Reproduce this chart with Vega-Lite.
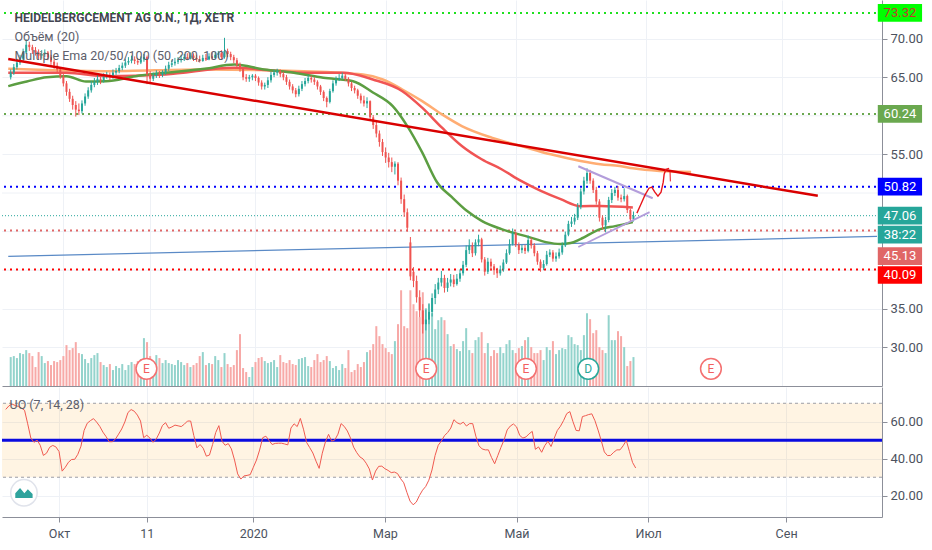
{
  "$schema": "https://vega.github.io/schema/vega-lite/v6.json",
  "background": "white",
  "padding": 0,
  "spacing": 1,
  "bounds": "flush",
  "config": {
    "view": {"stroke": null},
    "font": "Roboto",
    "axis": {"labelFont": "Roboto", "labelFontSize": 13, "labelColor": "#4c525e", "domainColor": "#8c8f99", "tickColor": "#8c8f99", "gridColor": "#eef1f6", "gridWidth": 1},
    "text": {"font": "Roboto"}
  },
  "datasets": {
    "bars": [
      {"i":-17,"o":65.0,"h":66.0,"l":64.7,"c":65.6,"v":899,"u":66.7},
      {"i":-16,"o":65.6,"h":66.7,"l":65.3,"c":66.3,"v":930,"u":68.6},
      {"i":-15,"o":66.3,"h":67.4,"l":66.0,"c":66.9,"v":868,"u":69.6},
      {"i":-14,"o":66.9,"h":67.9,"l":66.6,"c":67.4,"v":1023,"u":68.8},
      {"i":-13,"o":67.4,"h":68.7,"l":67.1,"c":68.2,"v":992,"u":68.3},
      {"i":-12,"o":68.2,"h":69.9,"l":68.0,"c":69.2,"v":1116,"u":67.4},
      {"i":-11,"o":69.2,"h":69.6,"l":68.4,"c":68.9,"v":1023,"u":66.2},
      {"i":-10,"o":68.9,"h":69.2,"l":68.0,"c":68.5,"v":930,"u":58.9},
      {"i":-9,"o":68.5,"h":68.9,"l":67.8,"c":68.2,"v":589,"u":51.2},
      {"i":-8,"o":68.2,"h":68.6,"l":67.3,"c":67.8,"v":1054,"u":48.9},
      {"i":-7,"o":67.8,"h":68.5,"l":67.4,"c":68.0,"v":930,"u":50.1},
      {"i":-6,"o":68.0,"h":68.6,"l":67.6,"c":68.2,"v":713,"u":47.3},
      {"i":-5,"o":68.2,"h":68.4,"l":67.2,"c":67.6,"v":775,"u":41.8},
      {"i":-4,"o":67.6,"h":67.9,"l":66.6,"c":67.0,"v":651,"u":43.0},
      {"i":-3,"o":67.0,"h":67.3,"l":66.1,"c":66.5,"v":775,"u":46.2},
      {"i":-2,"o":66.5,"h":66.9,"l":65.6,"c":66.0,"v":744,"u":47.2},
      {"i":-1,"o":66.0,"h":66.3,"l":64.8,"c":65.1,"v":806,"u":46.4},
      {"i":0,"o":65.1,"h":65.4,"l":63.8,"c":64.2,"v":930,"u":43.9},
      {"i":1,"o":64.2,"h":64.5,"l":62.6,"c":63.1,"v":1271,"u":33.3},
      {"i":2,"o":63.1,"h":63.5,"l":61.8,"c":62.2,"v":1116,"u":35.4},
      {"i":3,"o":62.2,"h":62.6,"l":60.8,"c":61.4,"v":1178,"u":38.1},
      {"i":4,"o":61.4,"h":61.9,"l":59.9,"c":60.8,"v":1364,"u":39.6},
      {"i":5,"o":60.8,"h":61.6,"l":60.1,"c":60.6,"v":1023,"u":39.7},
      {"i":6,"o":60.6,"h":62.0,"l":60.3,"c":61.6,"v":992,"u":42.4},
      {"i":7,"o":61.6,"h":62.9,"l":61.3,"c":62.5,"v":837,"u":46.8},
      {"i":8,"o":62.5,"h":63.7,"l":62.2,"c":63.3,"v":713,"u":55.3},
      {"i":9,"o":63.3,"h":64.5,"l":63.0,"c":64.0,"v":868,"u":59.2},
      {"i":10,"o":64.0,"h":64.9,"l":63.7,"c":64.4,"v":961,"u":60.6},
      {"i":11,"o":64.4,"h":65.3,"l":64.0,"c":64.8,"v":1023,"u":61.7},
      {"i":12,"o":64.8,"h":65.2,"l":64.1,"c":64.6,"v":744,"u":59.8},
      {"i":13,"o":64.6,"h":65.5,"l":64.3,"c":65.1,"v":651,"u":57.5},
      {"i":14,"o":65.1,"h":65.7,"l":64.8,"c":65.3,"v":589,"u":54.4},
      {"i":15,"o":65.3,"h":65.6,"l":64.6,"c":65.0,"v":682,"u":52.0},
      {"i":16,"o":65.0,"h":66.0,"l":64.8,"c":65.6,"v":496,"u":49.2},
      {"i":17,"o":65.6,"h":66.2,"l":65.3,"c":65.8,"v":620,"u":49.2},
      {"i":18,"o":65.8,"h":66.6,"l":65.5,"c":66.2,"v":558,"u":50.6},
      {"i":19,"o":66.2,"h":66.9,"l":65.9,"c":66.5,"v":682,"u":53.3},
      {"i":20,"o":66.5,"h":67.4,"l":66.2,"c":66.9,"v":496,"u":56.1},
      {"i":21,"o":66.9,"h":67.6,"l":66.6,"c":67.1,"v":651,"u":59.9},
      {"i":22,"o":67.1,"h":67.8,"l":66.8,"c":67.3,"v":744,"u":65.0},
      {"i":23,"o":67.3,"h":67.7,"l":66.7,"c":67.1,"v":682,"u":66.6},
      {"i":24,"o":67.1,"h":67.5,"l":66.6,"c":66.9,"v":775,"u":65.7},
      {"i":25,"o":66.9,"h":67.7,"l":66.7,"c":67.3,"v":837,"u":63.6},
      {"i":26,"o":67.3,"h":68.0,"l":67.0,"c":67.6,"v":1488,"u":60.4},
      {"i":27,"o":67.6,"h":67.8,"l":64.1,"c":65.4,"v":1364,"u":51.4},
      {"i":28,"o":65.4,"h":65.8,"l":64.3,"c":64.8,"v":930,"u":52.7},
      {"i":29,"o":64.8,"h":65.6,"l":64.5,"c":65.2,"v":775,"u":51.2},
      {"i":30,"o":65.2,"h":65.9,"l":64.9,"c":65.5,"v":961,"u":48.9},
      {"i":31,"o":65.5,"h":65.8,"l":64.9,"c":65.3,"v":868,"u":50.6},
      {"i":32,"o":65.3,"h":65.9,"l":65.0,"c":65.6,"v":713,"u":53.9},
      {"i":33,"o":65.6,"h":66.5,"l":65.3,"c":66.1,"v":806,"u":58.0},
      {"i":34,"o":66.1,"h":67.0,"l":65.8,"c":66.6,"v":713,"u":59.5},
      {"i":35,"o":66.6,"h":67.2,"l":66.3,"c":66.8,"v":682,"u":56.5},
      {"i":36,"o":66.8,"h":67.5,"l":66.5,"c":67.0,"v":651,"u":57.2},
      {"i":37,"o":67.0,"h":67.6,"l":66.7,"c":67.2,"v":806,"u":58.2},
      {"i":38,"o":67.2,"h":67.9,"l":66.9,"c":67.4,"v":744,"u":57.8},
      {"i":39,"o":67.4,"h":68.0,"l":67.1,"c":67.6,"v":651,"u":57.4},
      {"i":40,"o":67.6,"h":68.1,"l":67.2,"c":67.4,"v":713,"u":58.7},
      {"i":41,"o":67.4,"h":68.2,"l":67.3,"c":67.8,"v":589,"u":60.4},
      {"i":42,"o":67.8,"h":68.1,"l":67.1,"c":67.5,"v":651,"u":60.4},
      {"i":43,"o":67.5,"h":67.9,"l":67.0,"c":67.3,"v":713,"u":52.6},
      {"i":44,"o":67.3,"h":67.8,"l":66.9,"c":67.1,"v":930,"u":45.9},
      {"i":45,"o":67.1,"h":67.9,"l":67.0,"c":67.5,"v":1054,"u":47.7},
      {"i":46,"o":67.5,"h":68.0,"l":67.1,"c":67.3,"v":651,"u":45.7},
      {"i":47,"o":67.3,"h":68.1,"l":67.2,"c":67.7,"v":713,"u":41.4},
      {"i":48,"o":67.7,"h":68.2,"l":67.3,"c":67.5,"v":682,"u":42.0},
      {"i":49,"o":67.5,"h":68.3,"l":67.4,"c":67.9,"v":930,"u":47.7},
      {"i":50,"o":67.9,"h":68.4,"l":67.5,"c":68.1,"v":806,"u":54.2},
      {"i":51,"o":68.1,"h":68.5,"l":67.3,"c":67.6,"v":589,"u":57.9},
      {"i":52,"o":67.6,"h":70.1,"l":67.4,"c":68.4,"v":1023,"u":49.5},
      {"i":53,"o":68.4,"h":68.7,"l":67.6,"c":68.0,"v":682,"u":47.3},
      {"i":54,"o":68.0,"h":68.3,"l":67.2,"c":67.6,"v":589,"u":48.2},
      {"i":55,"o":67.6,"h":67.9,"l":66.8,"c":67.2,"v":651,"u":45.3},
      {"i":56,"o":67.2,"h":67.5,"l":66.2,"c":66.6,"v":1116,"u":39.3},
      {"i":57,"o":66.6,"h":66.9,"l":65.7,"c":66.1,"v":1612,"u":31.8},
      {"i":58,"o":66.1,"h":66.3,"l":64.6,"c":65.0,"v":558,"u":29.0},
      {"i":59,"o":65.0,"h":65.4,"l":64.4,"c":64.8,"v":434,"u":30.7},
      {"i":60,"o":64.8,"h":65.3,"l":64.4,"c":65.0,"v":279,"u":31.0},
      {"i":61,"o":65.0,"h":65.4,"l":64.6,"c":65.2,"v":589,"u":31.4},
      {"i":62,"o":65.2,"h":65.4,"l":64.5,"c":64.9,"v":744,"u":35.4},
      {"i":63,"o":64.9,"h":65.1,"l":63.9,"c":64.3,"v":868,"u":39.3},
      {"i":64,"o":64.3,"h":64.6,"l":63.4,"c":63.8,"v":899,"u":44.7},
      {"i":65,"o":63.8,"h":64.3,"l":63.4,"c":64.0,"v":775,"u":51.4},
      {"i":66,"o":64.0,"h":65.0,"l":63.6,"c":64.6,"v":713,"u":52.2},
      {"i":67,"o":64.6,"h":65.7,"l":64.3,"c":65.3,"v":744,"u":49.9},
      {"i":68,"o":65.3,"h":66.0,"l":65.0,"c":65.6,"v":806,"u":47.7},
      {"i":69,"o":65.6,"h":66.1,"l":65.2,"c":65.8,"v":589,"u":48.3},
      {"i":70,"o":65.8,"h":66.0,"l":65.0,"c":65.4,"v":961,"u":48.4},
      {"i":71,"o":65.4,"h":65.7,"l":64.6,"c":65.0,"v":744,"u":48.4},
      {"i":72,"o":65.0,"h":65.3,"l":64.0,"c":64.4,"v":713,"u":48.0},
      {"i":73,"o":64.4,"h":64.7,"l":63.4,"c":63.8,"v":806,"u":47.5},
      {"i":74,"o":63.8,"h":64.1,"l":62.9,"c":63.3,"v":682,"u":56.6},
      {"i":75,"o":63.3,"h":63.6,"l":62.4,"c":62.8,"v":651,"u":58.9},
      {"i":76,"o":62.8,"h":63.9,"l":62.5,"c":63.5,"v":837,"u":57.4},
      {"i":77,"o":63.5,"h":64.5,"l":63.2,"c":64.1,"v":868,"u":61.8},
      {"i":78,"o":64.1,"h":64.9,"l":63.8,"c":64.5,"v":899,"u":56.0},
      {"i":79,"o":64.5,"h":65.3,"l":64.2,"c":64.9,"v":620,"u":48.8},
      {"i":80,"o":64.9,"h":65.2,"l":64.3,"c":64.7,"v":589,"u":46.0},
      {"i":81,"o":64.7,"h":65.0,"l":64.0,"c":64.4,"v":806,"u":43.1},
      {"i":82,"o":64.4,"h":64.6,"l":63.4,"c":63.8,"v":992,"u":38.7},
      {"i":83,"o":63.8,"h":64.0,"l":62.7,"c":63.1,"v":744,"u":34.8},
      {"i":84,"o":63.1,"h":63.3,"l":61.9,"c":62.3,"v":806,"u":43.0},
      {"i":85,"o":62.3,"h":62.5,"l":61.1,"c":61.8,"v":930,"u":49.1},
      {"i":86,"o":61.8,"h":63.5,"l":61.6,"c":63.2,"v":775,"u":53.2},
      {"i":87,"o":63.2,"h":64.6,"l":63.0,"c":64.2,"v":558,"u":49.5},
      {"i":88,"o":64.2,"h":65.1,"l":63.9,"c":64.7,"v":620,"u":50.2},
      {"i":89,"o":64.7,"h":65.4,"l":64.5,"c":64.9,"v":496,"u":53.3},
      {"i":90,"o":64.9,"h":65.6,"l":64.7,"c":65.2,"v":682,"u":59.0},
      {"i":91,"o":65.2,"h":65.4,"l":64.5,"c":64.8,"v":558,"u":57.5},
      {"i":92,"o":64.8,"h":65.0,"l":63.8,"c":64.2,"v":1116,"u":55.0},
      {"i":93,"o":64.2,"h":64.4,"l":63.2,"c":63.6,"v":434,"u":51.2},
      {"i":94,"o":63.6,"h":63.9,"l":62.9,"c":63.3,"v":496,"u":46.3},
      {"i":95,"o":63.3,"h":63.5,"l":62.2,"c":62.6,"v":682,"u":43.3},
      {"i":96,"o":62.6,"h":62.9,"l":61.6,"c":62.0,"v":589,"u":41.0},
      {"i":97,"o":62.0,"h":62.6,"l":61.2,"c":61.6,"v":744,"u":39.9},
      {"i":98,"o":61.6,"h":62.4,"l":61.0,"c":61.9,"v":1054,"u":37.6},
      {"i":99,"o":61.9,"h":62.0,"l":59.4,"c":59.8,"v":1116,"u":34.5},
      {"i":100,"o":59.8,"h":60.1,"l":58.3,"c":58.8,"v":1302,"u":28.5},
      {"i":101,"o":58.8,"h":59.2,"l":57.2,"c":57.7,"v":1860,"u":33.3},
      {"i":102,"o":57.7,"h":58.1,"l":56.0,"c":56.6,"v":1550,"u":35.9},
      {"i":103,"o":56.6,"h":57.0,"l":54.8,"c":55.3,"v":1302,"u":36.0},
      {"i":104,"o":55.3,"h":55.9,"l":53.9,"c":54.6,"v":1178,"u":34.6},
      {"i":105,"o":54.6,"h":55.2,"l":53.3,"c":54.0,"v":1054,"u":33.7},
      {"i":106,"o":54.0,"h":54.6,"l":52.7,"c":53.4,"v":992,"u":32.5},
      {"i":107,"o":53.4,"h":54.1,"l":52.4,"c":53.8,"v":1395,"u":32.8},
      {"i":108,"o":53.8,"h":54.0,"l":51.0,"c":51.6,"v":1922,"u":32.0},
      {"i":109,"o":51.6,"h":52.0,"l":48.6,"c":49.2,"v":2976,"u":29.2},
      {"i":110,"o":49.2,"h":49.8,"l":46.9,"c":47.5,"v":1860,"u":27.0},
      {"i":111,"o":47.5,"h":48.0,"l":45.0,"c":45.5,"v":1798,"u":21.8},
      {"i":112,"o":43.6,"h":44.3,"l":38.7,"c":39.2,"v":2976,"u":17.1},
      {"i":113,"o":39.8,"h":40.4,"l":37.8,"c":38.6,"v":2542,"u":15.1},
      {"i":114,"o":38.6,"h":39.3,"l":35.8,"c":36.5,"v":2325,"u":16.6},
      {"i":115,"o":36.5,"h":37.4,"l":33.9,"c":34.8,"v":2139,"u":20.1},
      {"i":116,"o":34.8,"h":35.6,"l":31.8,"c":33.0,"v":2914,"u":23.0},
      {"i":117,"o":33.0,"h":34.9,"l":32.2,"c":33.6,"v":2418,"u":25.0},
      {"i":118,"o":33.6,"h":35.6,"l":33.0,"c":34.6,"v":2573,"u":28.4},
      {"i":119,"o":34.6,"h":37.0,"l":34.0,"c":36.4,"v":2263,"u":33.9},
      {"i":120,"o":36.4,"h":38.2,"l":35.6,"c":37.5,"v":1767,"u":41.8},
      {"i":121,"o":37.5,"h":39.0,"l":36.9,"c":38.4,"v":2046,"u":47.3},
      {"i":122,"o":38.4,"h":39.9,"l":37.9,"c":39.0,"v":2139,"u":49.6},
      {"i":123,"o":39.0,"h":39.4,"l":37.1,"c":37.7,"v":2046,"u":52.5},
      {"i":124,"o":37.7,"h":39.0,"l":37.2,"c":38.4,"v":1612,"u":54.2},
      {"i":125,"o":38.4,"h":39.5,"l":37.9,"c":38.8,"v":1240,"u":56.6},
      {"i":126,"o":38.8,"h":39.4,"l":37.8,"c":38.2,"v":1302,"u":61.1},
      {"i":127,"o":38.2,"h":39.5,"l":38.0,"c":38.9,"v":1147,"u":59.5},
      {"i":128,"o":38.9,"h":40.1,"l":38.5,"c":39.6,"v":1085,"u":58.7},
      {"i":129,"o":39.6,"h":41.2,"l":39.3,"c":40.7,"v":1395,"u":59.8},
      {"i":130,"o":40.7,"h":43.2,"l":40.4,"c":42.6,"v":1798,"u":57.7},
      {"i":131,"o":42.6,"h":44.0,"l":42.1,"c":43.2,"v":1116,"u":59.0},
      {"i":132,"o":43.2,"h":43.6,"l":41.7,"c":42.2,"v":1023,"u":59.0},
      {"i":133,"o":42.2,"h":44.0,"l":41.9,"c":43.6,"v":1426,"u":52.2},
      {"i":134,"o":43.6,"h":44.6,"l":43.1,"c":44.0,"v":1519,"u":47.0},
      {"i":135,"o":44.0,"h":44.2,"l":41.0,"c":41.4,"v":1674,"u":45.3},
      {"i":136,"o":41.4,"h":41.7,"l":39.3,"c":39.8,"v":1023,"u":44.8},
      {"i":137,"o":39.8,"h":41.6,"l":39.5,"c":41.1,"v":1333,"u":44.8},
      {"i":138,"o":41.1,"h":41.5,"l":40.0,"c":40.5,"v":930,"u":40.7},
      {"i":139,"o":40.5,"h":40.8,"l":39.4,"c":40.0,"v":1116,"u":37.3},
      {"i":140,"o":40.0,"h":40.3,"l":39.0,"c":39.6,"v":1023,"u":41.7},
      {"i":141,"o":39.6,"h":40.6,"l":39.3,"c":40.1,"v":1209,"u":46.1},
      {"i":142,"o":40.1,"h":41.4,"l":39.8,"c":41.0,"v":1023,"u":50.2},
      {"i":143,"o":41.0,"h":42.7,"l":40.8,"c":42.2,"v":1302,"u":55.6},
      {"i":144,"o":42.2,"h":44.0,"l":42.0,"c":43.4,"v":1426,"u":57.7},
      {"i":145,"o":43.4,"h":45.4,"l":43.2,"c":44.8,"v":1116,"u":58.8},
      {"i":146,"o":44.8,"h":45.0,"l":43.0,"c":43.3,"v":1023,"u":57.2},
      {"i":147,"o":43.3,"h":43.6,"l":42.1,"c":42.6,"v":1178,"u":52.6},
      {"i":148,"o":42.6,"h":43.3,"l":42.2,"c":42.9,"v":1240,"u":51.2},
      {"i":149,"o":42.9,"h":43.3,"l":42.1,"c":42.5,"v":1426,"u":51.8},
      {"i":150,"o":42.5,"h":44.5,"l":42.3,"c":43.9,"v":1519,"u":53.5},
      {"i":151,"o":43.9,"h":44.2,"l":42.8,"c":43.2,"v":1209,"u":54.8},
      {"i":152,"o":43.2,"h":43.5,"l":41.8,"c":42.2,"v":1023,"u":45.1},
      {"i":153,"o":42.2,"h":42.5,"l":40.7,"c":41.1,"v":1023,"u":46.4},
      {"i":154,"o":41.1,"h":41.4,"l":39.8,"c":40.3,"v":1116,"u":43.5},
      {"i":155,"o":40.3,"h":41.3,"l":40.0,"c":40.8,"v":806,"u":47.1},
      {"i":156,"o":40.8,"h":42.5,"l":40.6,"c":42.0,"v":1209,"u":49.5},
      {"i":157,"o":42.0,"h":42.7,"l":41.7,"c":42.3,"v":1116,"u":46.6},
      {"i":158,"o":42.3,"h":42.6,"l":41.1,"c":41.5,"v":1395,"u":51.1},
      {"i":159,"o":41.5,"h":42.3,"l":41.1,"c":41.8,"v":992,"u":55.3},
      {"i":160,"o":41.8,"h":42.8,"l":41.5,"c":42.3,"v":1116,"u":57.6},
      {"i":161,"o":42.3,"h":43.6,"l":42.0,"c":43.2,"v":1178,"u":60.7},
      {"i":162,"o":43.2,"h":45.0,"l":43.0,"c":44.6,"v":1147,"u":64.4},
      {"i":163,"o":44.6,"h":46.4,"l":44.4,"c":46.0,"v":1581,"u":65.5},
      {"i":164,"o":46.0,"h":46.9,"l":45.6,"c":46.3,"v":1519,"u":60.0},
      {"i":165,"o":46.3,"h":47.3,"l":45.9,"c":46.8,"v":1302,"u":55.3},
      {"i":166,"o":46.8,"h":48.7,"l":46.5,"c":48.2,"v":1271,"u":55.1},
      {"i":167,"o":48.2,"h":50.6,"l":47.9,"c":50.2,"v":1116,"u":62.8},
      {"i":168,"o":50.2,"h":52.1,"l":49.8,"c":51.6,"v":1581,"u":63.3},
      {"i":169,"o":51.6,"h":53.2,"l":51.2,"c":52.6,"v":2263,"u":63.9},
      {"i":170,"o":52.6,"h":53.0,"l":51.2,"c":51.6,"v":2077,"u":64.3},
      {"i":171,"o":51.6,"h":51.9,"l":50.0,"c":50.4,"v":1643,"u":60.6},
      {"i":172,"o":50.4,"h":50.8,"l":48.5,"c":48.9,"v":1736,"u":55.5},
      {"i":173,"o":48.9,"h":49.2,"l":46.3,"c":46.8,"v":1209,"u":49.9},
      {"i":174,"o":46.8,"h":47.1,"l":45.3,"c":45.8,"v":1116,"u":43.7},
      {"i":175,"o":45.8,"h":46.9,"l":44.9,"c":46.5,"v":1023,"u":41.7},
      {"i":176,"o":46.5,"h":49.5,"l":46.2,"c":49.1,"v":2201,"u":41.8},
      {"i":177,"o":49.1,"h":50.5,"l":48.7,"c":50.0,"v":1426,"u":43.5},
      {"i":178,"o":50.0,"h":50.8,"l":49.6,"c":50.4,"v":1426,"u":44.8},
      {"i":179,"o":50.4,"h":50.9,"l":49.0,"c":49.4,"v":1705,"u":44.8},
      {"i":180,"o":49.4,"h":49.8,"l":48.8,"c":49.2,"v":1550,"u":47.0},
      {"i":181,"o":49.2,"h":50.6,"l":48.9,"c":49.6,"v":1209,"u":49.9},
      {"i":182,"o":49.6,"h":49.8,"l":47.4,"c":47.8,"v":620,"u":44.0},
      {"i":183,"o":47.8,"h":48.0,"l":46.2,"c":46.6,"v":775,"u":38.0},
      {"i":184,"o":46.6,"h":47.6,"l":46.3,"c":47.06,"v":899,"u":35.0}
    ],
    "ema": [
      {"n":"o","i":-17.8,"p":66.09},{"n":"o","i":13.7,"p":65.78},{"n":"o","i":45.6,"p":66.0},{"n":"o","i":77.5,"p":65.78},
      {"n":"o","i":96.7,"p":65.35},{"n":"o","i":103.1,"p":64.7},{"n":"o","i":109.4,"p":63.41},{"n":"o","i":115.8,"p":61.9},
      {"n":"o","i":122.2,"p":60.18},{"n":"o","i":128.6,"p":58.67},{"n":"o","i":138.2,"p":57.17},{"n":"o","i":147.7,"p":56.09},
      {"n":"o","i":157.3,"p":55.01},{"n":"o","i":166.9,"p":54.15},{"n":"o","i":173.3,"p":53.72},{"n":"o","i":179.6,"p":53.5},
      {"n":"o","i":183.8,"p":53.2},{"n":"o","i":192.4,"p":52.86},{"n":"o","i":202.6,"p":52.73},
      {"n":"r","i":-17.8,"p":65.57},{"n":"r","i":1.0,"p":65.57},{"n":"r","i":13.7,"p":65.13},{"n":"r","i":32.9,"p":65.35},
      {"n":"r","i":55.2,"p":66.21},{"n":"r","i":77.5,"p":65.57},{"n":"r","i":90.3,"p":65.57},{"n":"r","i":99.9,"p":64.7},
      {"n":"r","i":109.4,"p":63.19},{"n":"r","i":115.8,"p":61.05},{"n":"r","i":122.2,"p":58.46},{"n":"r","i":128.6,"p":56.09},
      {"n":"r","i":135.0,"p":54.37},{"n":"r","i":141.4,"p":53.08},{"n":"r","i":147.7,"p":51.56},{"n":"r","i":154.1,"p":50.27},
      {"n":"r","i":160.5,"p":49.2},{"n":"r","i":166.9,"p":48.29},{"n":"r","i":173.3,"p":48.33},{"n":"r","i":183.8,"p":48.13},
      {"n":"g","i":-17.8,"p":63.84},{"n":"g","i":-11.8,"p":64.44},{"n":"g","i":-5.4,"p":65.0},{"n":"g","i":1.0,"p":65.13},
      {"n":"g","i":7.3,"p":64.44},{"n":"g","i":13.7,"p":64.48},{"n":"g","i":23.3,"p":65.13},{"n":"g","i":32.9,"p":65.57},
      {"n":"g","i":45.6,"p":66.09},{"n":"g","i":55.2,"p":66.64},{"n":"g","i":64.8,"p":66.0},{"n":"g","i":74.4,"p":65.57},
      {"n":"g","i":83.9,"p":64.92},{"n":"g","i":93.5,"p":64.48},{"n":"g","i":99.9,"p":63.02},{"n":"g","i":106.3,"p":61.25},
      {"n":"g","i":111.0,"p":58.67},{"n":"g","i":115.8,"p":55.27},{"n":"g","i":120.6,"p":51.4},{"n":"g","i":125.4,"p":49.46},
      {"n":"g","i":130.2,"p":47.69},{"n":"g","i":135.0,"p":46.4},{"n":"g","i":141.4,"p":45.32},{"n":"g","i":150.3,"p":44.29},
      {"n":"g","i":155.7,"p":43.64},{"n":"g","i":160.5,"p":43.39},{"n":"g","i":163.7,"p":43.51},{"n":"g","i":166.9,"p":44.03},
      {"n":"g","i":173.3,"p":45.32},{"n":"g","i":178.1,"p":45.71},{"n":"g","i":183.8,"p":46.23}
    ],
    "grid": [{"p":40},{"p":45},{"p":50},{"p":60}],
    "hl": [
      {"n":"a","p":73.32},{"n":"b","p":60.24},{"n":"c","p":50.82},{"n":"f","p":45.13},{"n":"g","p":40.09}
    ],
    "last": [{"p":47.06}],
    "blue": [{"k":0,"i":-17.8,"p":41.8},{"k":1,"i":262.6,"p":44.37}],
    "lines": [
      {"n":"trend","k":0,"i":-17.8,"p":67.35},{"n":"trend","k":1,"i":243.5,"p":49.63},
      {"n":"tri1","k":0,"i":166.2,"p":53.46},{"n":"tri1","k":1,"i":190.2,"p":49.33},
      {"n":"tri2","k":0,"i":166.2,"p":43.0},{"n":"tri2","k":1,"i":189.2,"p":47.52},
      {"n":"path","k":0,"i":185.1,"p":47.39},{"n":"path","k":1,"i":186.4,"p":48.55},{"n":"path","k":2,"i":187.7,"p":49.72},
      {"n":"path","k":3,"i":189.0,"p":50.62},{"n":"path","k":4,"i":189.9,"p":50.75},{"n":"path","k":5,"i":190.9,"p":50.1},
      {"n":"path","k":6,"i":191.9,"p":49.59},{"n":"path","k":7,"i":192.9,"p":50.1},{"n":"path","k":8,"i":193.6,"p":51.4},
      {"n":"path","k":9,"i":193.9,"p":52.43},{"n":"path","k":10,"i":194.5,"p":53.07},{"n":"path","k":11,"i":195.5,"p":53.2},
      {"n":"tick","k":0,"i":195.8,"p":52.8},{"n":"tick","k":1,"i":195.9,"p":51.5}
    ],
    "ev": [
      {"k":"E","i":26.8,"p":27.23},{"k":"E","i":117.1,"p":27.23},{"k":"E","i":149.3,"p":27.23},
      {"k":"D","i":169.4,"p":27.23},{"k":"E","i":209.0,"p":27.23}
    ],
    "ttl": [{"t":"HEIDELBERGCEMENT AG O.N., 1Д, XETR","i":-15.8,"p":72.71}],
    "leg": [
      {"t":"Объём (20)","i":-15.8,"p":70.2},
      {"t":"Multiple Ema 20/50/100 (50, 200, 100)","i":-15.8,"p":67.7}
    ],
    "tags": [
      {"n":"a","t":"73.32","at":73.32},{"n":"b","t":"60.24","at":60.24},{"n":"c","t":"50.82","at":50.82},
      {"n":"d","t":"47.06","at":47.06},{"n":"e","t":"38:22","at":44.6},{"n":"f","t":"45.13","at":41.83},
      {"n":"g","t":"40.09","at":39.38}
    ],
    "band": [{"lo":30,"hi":70}],
    "lv": [{"lvl":30},{"lvl":70}],
    "mid": [{"lvl":50}],
    "uot": [{"t":"UO (7, 14, 28)","i":-15.8,"u":69.3}],
    "logo": [{"i":-11.2,"u":21.6}]
  },
  "vconcat": [
    {
      "width": 880,
      "height": 386,
      "resolve": {"scale": {"y": "independent"}},
      "layer": [
        {
          "data": {"name": "bars"},
          "mark": {"type": "bar", "size": 2},
          "encoding": {
            "x": {"field": "i", "type": "quantitative", "title": null,
                  "scale": {"domain": [-18.2, 262.6], "nice": false, "zero": false},
                  "axis": {"values": [0, 28, 62, 104, 146, 188, 232], "labels": false, "ticks": false, "domain": true, "grid": true}},
            "y": {"field": "v", "type": "quantitative", "title": null, "scale": {"domain": [0, 12000]}, "axis": null},
            "color": {"condition": {"test": "datum.c >= datum.o", "value": "#93d3cc"}, "value": "#f7a9a7"}
          }
        },
        {
          "resolve": {"scale": {"color": "independent", "strokeWidth": "independent", "stroke": "independent"}},
          "layer": [
            {
              "data": {"name": "grid"},
              "mark": {"type": "rule", "strokeWidth": 1, "color": "#eef1f6"},
              "encoding": {
                "y": {"field": "p", "type": "quantitative", "title": null,
                      "scale": {"domain": [25, 75], "nice": false, "zero": false},
                      "axis": {"orient": "right", "values": [30, 35, 55, 65, 70], "format": ".2f", "tickSize": 5, "labelPadding": 3, "grid": true, "domain": true}}
              }
            },
            {
              "data": {"name": "hl"},
              "mark": {"type": "rule", "strokeWidth": 2, "strokeDash": [2, 4]},
              "encoding": {
                "y": {"field": "p", "type": "quantitative", "title": null, "scale": {"domain": [25, 75], "nice": false, "zero": false}},
                "color": {"field": "n", "type": "nominal", "legend": null,
                          "scale": {"domain": ["a", "b", "c", "f", "g"], "range": ["#1fe01f", "#6aa84f", "#0000ff", "#e06666", "#ff0000"]}}
              }
            },
            {
              "data": {"name": "last"},
              "mark": {"type": "rule", "strokeWidth": 1, "strokeDash": [1, 2], "color": "#26a69a"},
              "encoding": {"y": {"field": "p", "type": "quantitative", "title": null, "scale": {"domain": [25, 75], "nice": false, "zero": false}}}
            },
            {
              "data": {"name": "blue"},
              "mark": {"type": "line", "strokeWidth": 1.3, "color": "#5a8ac6"},
              "encoding": {
                "x": {"field": "i", "type": "quantitative", "title": null, "scale": {"domain": [-18.2, 262.6], "nice": false, "zero": false}},
                "y": {"field": "p", "type": "quantitative", "title": null, "scale": {"domain": [25, 75], "nice": false, "zero": false}},
                "order": {"field": "k"}
              }
            },
            {
              "data": {"name": "ema"},
              "mark": {"type": "line", "strokeWidth": 2.5, "interpolate": "monotone"},
              "encoding": {
                "x": {"field": "i", "type": "quantitative", "title": null, "scale": {"domain": [-18.2, 262.6], "nice": false, "zero": false}},
                "y": {"field": "p", "type": "quantitative", "title": null, "scale": {"domain": [25, 75], "nice": false, "zero": false}},
                "color": {"field": "n", "type": "nominal", "legend": null,
                          "scale": {"domain": ["o", "r", "g"], "range": ["#ffad73", "#f05454", "#5c9e42"]}}
              }
            },
            {
              "data": {"name": "bars"},
              "mark": {"type": "rule", "strokeWidth": 1},
              "encoding": {
                "x": {"field": "i", "type": "quantitative", "title": null, "scale": {"domain": [-18.2, 262.6], "nice": false, "zero": false}},
                "y": {"field": "l", "type": "quantitative", "title": null, "scale": {"domain": [25, 75], "nice": false, "zero": false}},
                "y2": {"field": "h"},
                "color": {"condition": {"test": "datum.c >= datum.o", "value": "#26a69a"}, "value": "#ef5350"}
              }
            },
            {
              "data": {"name": "bars"},
              "mark": {"type": "bar", "size": 2},
              "encoding": {
                "x": {"field": "i", "type": "quantitative", "title": null, "scale": {"domain": [-18.2, 262.6], "nice": false, "zero": false}},
                "y": {"field": "o", "type": "quantitative", "title": null, "scale": {"domain": [25, 75], "nice": false, "zero": false}},
                "y2": {"field": "c"},
                "color": {"condition": {"test": "datum.c >= datum.o", "value": "#26a69a"}, "value": "#ef5350"}
              }
            },
            {
              "data": {"name": "lines"},
              "mark": {"type": "line"},
              "encoding": {
                "x": {"field": "i", "type": "quantitative", "title": null, "scale": {"domain": [-18.2, 262.6], "nice": false, "zero": false}},
                "y": {"field": "p", "type": "quantitative", "title": null, "scale": {"domain": [25, 75], "nice": false, "zero": false}},
                "order": {"field": "k"},
                "color": {"field": "n", "type": "nominal", "legend": null,
                          "scale": {"domain": ["trend", "tri1", "tri2", "path", "tick"], "range": ["#d90000", "#b39ddb", "#b39ddb", "#e8151b", "#e8151b"]}},
                "strokeWidth": {"field": "n", "type": "nominal", "legend": null,
                          "scale": {"domain": ["trend", "tri1", "tri2", "path", "tick"], "range": [2.5, 1, 1, 2.5, 2]}}
              }
            },
            {
              "data": {"name": "ev"},
              "mark": {"type": "point", "shape": "circle", "size": 430, "fill": "white", "fillOpacity": 1, "strokeWidth": 1.5, "opacity": 1},
              "encoding": {
                "x": {"field": "i", "type": "quantitative", "title": null, "scale": {"domain": [-18.2, 262.6], "nice": false, "zero": false}},
                "y": {"field": "p", "type": "quantitative", "title": null, "scale": {"domain": [25, 75], "nice": false, "zero": false}},
                "stroke": {"field": "k", "type": "nominal", "legend": null, "scale": {"domain": ["E", "D"], "range": ["#f47171", "#2aa89a"]}}
              }
            },
            {
              "data": {"name": "ev"},
              "mark": {"type": "text", "fontSize": 12, "baseline": "middle", "align": "center"},
              "encoding": {
                "x": {"field": "i", "type": "quantitative", "title": null, "scale": {"domain": [-18.2, 262.6], "nice": false, "zero": false}},
                "y": {"field": "p", "type": "quantitative", "title": null, "scale": {"domain": [25, 75], "nice": false, "zero": false}},
                "text": {"field": "k"},
                "color": {"field": "k", "type": "nominal", "legend": null, "scale": {"domain": ["E", "D"], "range": ["#f26060", "#2aa89a"]}}
              }
            },
            {
              "data": {"name": "ttl"},
              "mark": {"type": "text", "align": "left", "baseline": "middle", "fontSize": 12, "fontWeight": "bold", "color": "#434651"},
              "encoding": {
                "x": {"field": "i", "type": "quantitative", "title": null, "scale": {"domain": [-18.2, 262.6], "nice": false, "zero": false}},
                "y": {"field": "p", "type": "quantitative", "title": null, "scale": {"domain": [25, 75], "nice": false, "zero": false}},
                "text": {"field": "t"}
              }
            },
            {
              "data": {"name": "leg"},
              "mark": {"type": "text", "align": "left", "baseline": "middle", "fontSize": 12.5, "color": "#5d606b"},
              "encoding": {
                "x": {"field": "i", "type": "quantitative", "title": null, "scale": {"domain": [-18.2, 262.6], "nice": false, "zero": false}},
                "y": {"field": "p", "type": "quantitative", "title": null, "scale": {"domain": [25, 75], "nice": false, "zero": false}},
                "text": {"field": "t"}
              }
            },
            {
              "data": {"name": "tags"},
              "mark": {"type": "point", "shape": "M-1,-0.4L1,-0.4L1,0.4L-1,0.4Z", "size": 1960, "filled": true, "opacity": 1},
              "encoding": {
                "x": {"datum": 270, "type": "quantitative", "scale": {"domain": [-18.2, 262.6], "nice": false, "zero": false}},
                "y": {"field": "at", "type": "quantitative", "title": null, "scale": {"domain": [25, 75], "nice": false, "zero": false}},
                "color": {"field": "n", "type": "nominal", "legend": null,
                          "scale": {"domain": ["a", "b", "c", "d", "e", "f", "g"], "range": ["#00ff00", "#6aa84f", "#0000ff", "#26a69a", "#26a69a", "#e06666", "#ff0000"]}}
              }
            },
            {
              "data": {"name": "tags"},
              "mark": {"type": "text", "align": "center", "baseline": "middle", "fontSize": 13},
              "encoding": {
                "x": {"datum": 270, "type": "quantitative", "scale": {"domain": [-18.2, 262.6], "nice": false, "zero": false}},
                "y": {"field": "at", "type": "quantitative", "title": null, "scale": {"domain": [25, 75], "nice": false, "zero": false}},
                "text": {"field": "t"},
                "color": {"field": "n", "type": "nominal", "legend": null,
                          "scale": {"domain": ["a", "b", "c", "d", "e", "f", "g"], "range": ["#c0392b", "#ffffff", "#ffffff", "#ffffff", "#ffffff", "#ffffff", "#ffffff"]}}
              }
            }
          ]
        }
      ]
    },
    {
      "width": 880,
      "height": 130,
      "layer": [
        {
          "data": {"name": "band"},
          "mark": {"type": "rect", "color": "#ff9800", "opacity": 0.11},
          "encoding": {
            "y": {"field": "lo", "type": "quantitative", "title": null,
                  "scale": {"domain": [8.5, 78.8], "nice": false, "zero": false},
                  "axis": {"orient": "right", "values": [20, 40, 60], "format": ".2f", "tickSize": 5, "labelPadding": 3, "grid": true, "domain": true}},
            "y2": {"field": "hi"}
          }
        },
        {
          "data": {"name": "lv"},
          "mark": {"type": "rule", "color": "#9c9ea6", "strokeDash": [3, 3], "strokeWidth": 1},
          "encoding": {"y": {"field": "lvl", "type": "quantitative", "title": null, "scale": {"domain": [8.5, 78.8], "nice": false, "zero": false}}}
        },
        {
          "data": {"name": "mid"},
          "mark": {"type": "rule", "color": "#0a0ae0", "strokeWidth": 3},
          "encoding": {"y": {"field": "lvl", "type": "quantitative", "title": null, "scale": {"domain": [8.5, 78.8], "nice": false, "zero": false}}}
        },
        {
          "data": {"name": "bars"},
          "mark": {"type": "line", "color": "#f05a50", "strokeWidth": 1},
          "encoding": {
            "x": {"field": "i", "type": "quantitative", "title": null,
                  "scale": {"domain": [-18.2, 262.6], "nice": false, "zero": false},
                  "axis": {"orient": "bottom", "values": [0, 28, 62, 104, 146, 188, 232], "tickSize": 5, "labelPadding": 5, "grid": true, "domain": true, "labelFontSize": 12.5,
                           "labelExpr": "datum.value == 0 ? 'Окт' : datum.value == 28 ? '11' : datum.value == 62 ? '2020' : datum.value == 104 ? 'Мар' : datum.value == 146 ? 'Май' : datum.value == 188 ? 'Июл' : 'Сен'"}},
            "y": {"field": "u", "type": "quantitative", "title": null, "scale": {"domain": [8.5, 78.8], "nice": false, "zero": false}}
          }
        },
        {
          "data": {"name": "uot"},
          "mark": {"type": "text", "align": "left", "baseline": "middle", "fontSize": 12.5, "color": "#5d606b"},
          "encoding": {
            "x": {"field": "i", "type": "quantitative", "title": null, "scale": {"domain": [-18.2, 262.6], "nice": false, "zero": false}},
            "y": {"field": "u", "type": "quantitative", "title": null, "scale": {"domain": [8.5, 78.8], "nice": false, "zero": false}},
            "text": {"field": "t"}
          }
        },
        {
          "data": {"name": "logo"},
          "mark": {"type": "point", "shape": "circle", "size": 700, "fill": "white", "fillOpacity": 1, "stroke": "#e0e3eb", "strokeWidth": 1.5, "opacity": 1},
          "encoding": {
            "x": {"field": "i", "type": "quantitative", "title": null, "scale": {"domain": [-18.2, 262.6], "nice": false, "zero": false}},
            "y": {"field": "u", "type": "quantitative", "title": null, "scale": {"domain": [8.5, 78.8], "nice": false, "zero": false}}
          }
        },
        {
          "data": {"name": "logo"},
          "mark": {"type": "point", "shape": "M-1,0.6L-1,0.05L-0.45,-0.55L0.05,0.05L0.45,-0.4L1,0.15L1,0.6Z", "size": 300, "filled": true, "color": "#2fa39d", "opacity": 1},
          "encoding": {
            "x": {"field": "i", "type": "quantitative", "title": null, "scale": {"domain": [-18.2, 262.6], "nice": false, "zero": false}},
            "y": {"field": "u", "type": "quantitative", "title": null, "scale": {"domain": [8.5, 78.8], "nice": false, "zero": false}}
          }
        }
      ]
    }
  ]
}
